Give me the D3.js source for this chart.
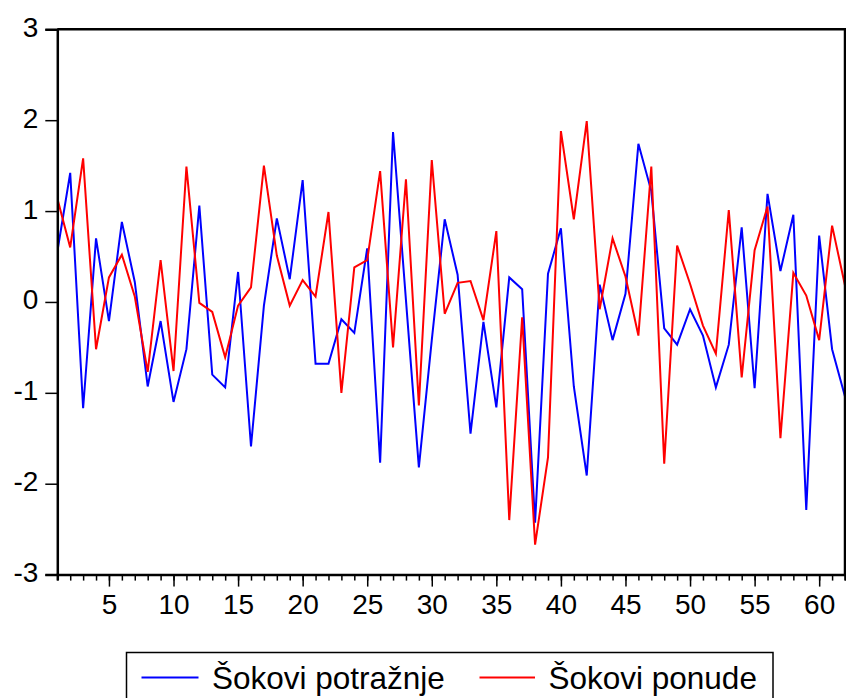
<!DOCTYPE html>
<html>
<head>
<meta charset="utf-8">
<script src="https://cdn.jsdelivr.net/npm/d3@7"></script>
<style>
  html, body { margin: 0; padding: 0; background: #fff; }
  svg { display: block; font-family: "Liberation Sans", Arial, sans-serif; }
</style>
</head>
<body>
<svg id="chart" width="846" height="698"></svg>
<script>
// Observation index 1..62
const periods = d3.range(1, 63);

// Demand shocks
const demandShocks = [
  0.55, 1.42, -1.17, 0.70, -0.21, 0.88, 0.22, -0.93, -0.21, -1.10,
  -0.52, 1.06, -0.80, -0.94, 0.33, -1.59, -0.04, 0.92, 0.25, 1.34,
  -0.68, -0.68, -0.19, -0.34, 0.59, -1.77, 1.87, 0.02, -1.82, -0.42,
  0.91, 0.30, -1.45, -0.22, -1.16, 0.27, 0.14, -2.43, 0.31, 0.81,
  -0.93, -1.91, 0.19, -0.42, 0.09, 1.74, 1.22, -0.29, -0.47, -0.08,
  -0.37, -0.94, -0.47, 0.82, -0.95, 1.19, 0.34, 0.96, -2.29, 0.73,
  -0.52, -1.04
];

// Supply shocks
const supplyShocks = [
  1.14, 0.60, 1.58, -0.52, 0.27, 0.52, 0.06, -0.77, 0.46, -0.76,
  1.49, -0.01, -0.11, -0.61, -0.04, 0.16, 1.50, 0.51, -0.04, 0.24,
  0.06, 0.99, -1.00, 0.38, 0.46, 1.44, -0.50, 1.35, -1.14, 1.56,
  -0.13, 0.21, 0.23, -0.20, 0.78, -2.40, -0.17, -2.67, -1.71, 1.88,
  0.91, 1.99, -0.08, 0.70, 0.28, -0.37, 1.49, -1.78, 0.62, 0.20,
  -0.26, -0.57, 1.01, -0.83, 0.57, 1.05, -1.50, 0.32, 0.07, -0.42,
  0.84, 0.18
];

const yTicks = [-3, -2, -1, 0, 1, 2, 3];
const xMajorTicks = [5, 10, 15, 20, 25, 30, 35, 40, 45, 50, 55, 60];

const seriesNames = ["Šokovi potražnje", "Šokovi ponude"];
const seriesColors = ["#0000ff", "#ff0000"];

const svg = d3.select("#chart");

const plotLeft = 57.3, plotRight = 845, plotTop = 29.3, plotBottom = 574.6;

const x = d3.scaleLinear().domain([1, 62]).range([plotLeft, plotRight]);
const y = d3.scaleLinear().domain([-3, 3]).range([plotBottom, plotTop]);

// Data lines
const line = d3.line()
  .x((d, i) => x(periods[i]))
  .y(d => y(d));

svg.append("clipPath").attr("id", "plotclip")
  .append("rect")
  .attr("x", plotLeft).attr("y", plotTop)
  .attr("width", plotRight - plotLeft).attr("height", plotBottom - plotTop);

const plot = svg.append("g").attr("clip-path", "url(#plotclip)");

[demandShocks, supplyShocks].forEach((vals, k) => {
  plot.append("path")
    .datum(vals)
    .attr("fill", "none")
    .attr("stroke", seriesColors[k])
    .attr("stroke-width", 2)
    .attr("stroke-linejoin", "miter")
    .attr("d", line);
});

// Frame: top and right edges
svg.append("path")
  .attr("d", `M${plotLeft},${plotTop}H${plotRight}V${plotBottom}`)
  .attr("fill", "none")
  .attr("stroke", "#000")
  .attr("stroke-width", 2.5);

// Y axis
const yAxis = svg.append("g")
  .attr("transform", `translate(${plotLeft},0)`)
  .call(d3.axisLeft(y).tickValues(yTicks).tickSize(12).tickPadding(7)
    .tickFormat(d => d < 0 ? "-" + Math.abs(d) : String(d)));
yAxis.select(".domain").attr("stroke-width", 2.5);
yAxis.selectAll(".tick line").attr("stroke-width", 1.5);
yAxis.selectAll(".tick text")
  .attr("font-size", 28)
  .attr("fill", "#000")
  .attr("dy", "0.25em")
  .attr("font-family", "'Liberation Sans', Arial, sans-serif");

// X axis: minor ticks at every period, major ticks with labels
const xAxisMinor = svg.append("g")
  .attr("transform", `translate(0,${plotBottom})`)
  .call(d3.axisBottom(x).tickValues(periods).tickSize(6).tickFormat(""));
xAxisMinor.select(".domain").attr("stroke-width", 2.5);
xAxisMinor.selectAll(".tick line").attr("stroke-width", 1.5);

const xAxisMajor = svg.append("g")
  .attr("transform", `translate(0,${plotBottom})`)
  .call(d3.axisBottom(x).tickValues(xMajorTicks).tickSize(12).tickPadding(8)
    .tickFormat(d3.format("d")));
xAxisMajor.select(".domain").remove();
xAxisMajor.selectAll(".tick line").attr("stroke-width", 1.5);
xAxisMajor.selectAll(".tick text")
  .attr("font-size", 28)
  .attr("fill", "#000")
  .attr("font-family", "'Liberation Sans', Arial, sans-serif");

// Legend
const legend = svg.append("g");
legend.append("rect")
  .attr("x", 126.5).attr("y", 652.5)
  .attr("width", 646.5).attr("height", 60)
  .attr("fill", "#fff")
  .attr("stroke", "#000")
  .attr("stroke-width", 1.5);

const legendItems = [
  { x0: 141.5, x1: 198.5, tx: 212 },
  { x0: 479.5, x1: 535, tx: 548.5 }
];
legendItems.forEach((it, k) => {
  legend.append("line")
    .attr("x1", it.x0).attr("x2", it.x1)
    .attr("y1", 677.5).attr("y2", 677.5)
    .attr("stroke", seriesColors[k])
    .attr("stroke-width", 2);
  legend.append("text")
    .attr("x", it.tx).attr("y", 688.5)
    .attr("font-size", 31.5)
    .attr("fill", "#000")
    .text(seriesNames[k]);
});
</script>
</body>
</html>
